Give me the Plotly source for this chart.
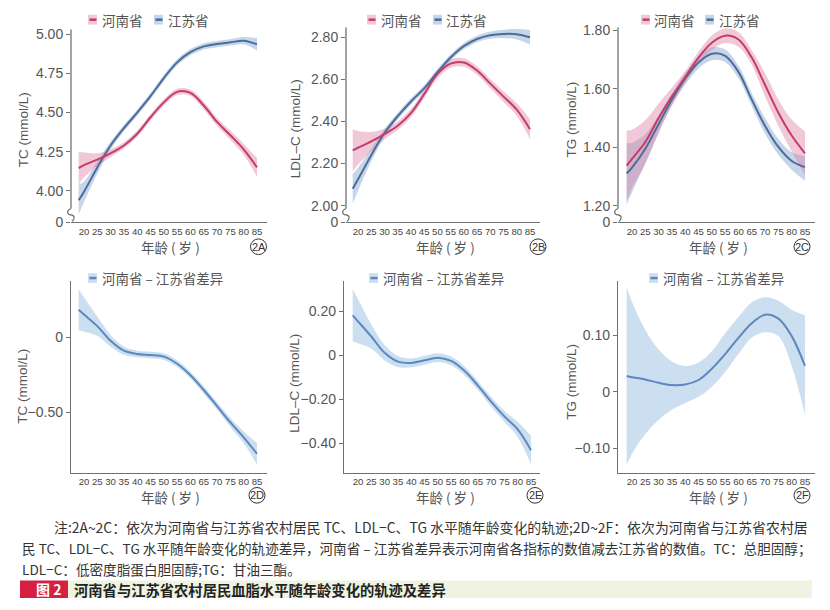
import plotly.graph_objects as go

W, H = 830, 610

# ---------------- data ----------------
age = [18, 20, 25, 30, 35, 40, 45, 50, 55, 60, 65, 70, 75, 80, 85]
x_ticks = [20, 25, 30, 35, 40, 45, 50, 55, 60, 65, 70, 75, 80, 85]

# 2A  TC
tc_henan = [4.145, 4.165, 4.20, 4.24, 4.29, 4.365, 4.47, 4.565, 4.632, 4.625, 4.545, 4.44, 4.355, 4.265, 4.15]
tc_henan_lo = [4.04, 4.085, 4.16, 4.215, 4.27, 4.345, 4.45, 4.545, 4.612, 4.605, 4.52, 4.415, 4.325, 4.23, 4.09]
tc_henan_hi = [4.25, 4.245, 4.24, 4.265, 4.31, 4.385, 4.49, 4.585, 4.652, 4.645, 4.57, 4.465, 4.385, 4.30, 4.21]
tc_js = [3.94, 3.995, 4.15, 4.29, 4.40, 4.50, 4.605, 4.72, 4.82, 4.885, 4.922, 4.937, 4.948, 4.958, 4.935]
tc_js_lo = [3.85, 3.93, 4.11, 4.265, 4.38, 4.48, 4.585, 4.70, 4.80, 4.865, 4.902, 4.917, 4.928, 4.935, 4.895]
tc_js_hi = [4.04, 4.06, 4.19, 4.315, 4.42, 4.52, 4.625, 4.74, 4.84, 4.905, 4.942, 4.957, 4.968, 4.982, 4.975]

# 2B  LDL-C
ldl_henan = [2.263, 2.275, 2.305, 2.34, 2.38, 2.44, 2.53, 2.625, 2.675, 2.68, 2.642, 2.58, 2.518, 2.456, 2.363]
ldl_henan_lo = [2.163, 2.195, 2.26, 2.315, 2.36, 2.42, 2.51, 2.605, 2.655, 2.66, 2.622, 2.558, 2.493, 2.426, 2.316]
ldl_henan_hi = [2.363, 2.355, 2.35, 2.365, 2.40, 2.46, 2.55, 2.645, 2.695, 2.70, 2.662, 2.602, 2.543, 2.486, 2.41]
ldl_js = [2.08, 2.125, 2.24, 2.345, 2.425, 2.495, 2.557, 2.634, 2.704, 2.758, 2.792, 2.81, 2.816, 2.815, 2.80]
ldl_js_lo = [2.01, 2.07, 2.21, 2.325, 2.41, 2.48, 2.542, 2.619, 2.689, 2.743, 2.777, 2.793, 2.796, 2.79, 2.765]
ldl_js_hi = [2.15, 2.18, 2.27, 2.365, 2.44, 2.51, 2.572, 2.649, 2.719, 2.773, 2.807, 2.827, 2.836, 2.84, 2.835]

# 2C  TG
tg_henan = [1.337, 1.36, 1.418, 1.50, 1.574, 1.64, 1.707, 1.758, 1.782, 1.769, 1.707, 1.613, 1.518, 1.44, 1.379]
tg_henan_lo = [1.217, 1.26, 1.343, 1.45, 1.544, 1.62, 1.687, 1.733, 1.757, 1.744, 1.682, 1.573, 1.473, 1.385, 1.304]
tg_henan_hi = [1.457, 1.46, 1.493, 1.55, 1.604, 1.66, 1.727, 1.783, 1.807, 1.794, 1.732, 1.653, 1.563, 1.495, 1.454]
tg_js = [1.31, 1.33, 1.395, 1.479, 1.563, 1.635, 1.69, 1.72, 1.713, 1.658, 1.563, 1.473, 1.401, 1.353, 1.332]
tg_js_lo = [1.205, 1.245, 1.345, 1.449, 1.543, 1.615, 1.67, 1.698, 1.691, 1.636, 1.541, 1.446, 1.374, 1.323, 1.285]
tg_js_hi = [1.415, 1.415, 1.445, 1.509, 1.583, 1.655, 1.71, 1.742, 1.735, 1.68, 1.585, 1.5, 1.428, 1.383, 1.37]

# 2D  TC difference (Henan - Jiangsu)
tc_diff = [0.187, 0.155, 0.077, -0.022, -0.088, -0.11, -0.117, -0.128, -0.176, -0.253, -0.352, -0.46, -0.57, -0.67, -0.78]
tc_diff_lo = [0.05, 0.04, 0.012, -0.062, -0.116, -0.132, -0.139, -0.15, -0.198, -0.275, -0.377, -0.485, -0.60, -0.71, -0.852]
tc_diff_hi = [0.324, 0.27, 0.142, 0.018, -0.06, -0.088, -0.095, -0.106, -0.154, -0.231, -0.327, -0.435, -0.54, -0.63, -0.708]

# 2E  LDL-C difference
ldl_diff = [0.182, 0.155, 0.086, 0.012, -0.028, -0.034, -0.022, -0.010, -0.025, -0.07, -0.136, -0.21, -0.277, -0.336, -0.43]
ldl_diff_lo = [0.064, 0.055, 0.031, -0.023, -0.053, -0.054, -0.042, -0.03, -0.045, -0.09, -0.156, -0.232, -0.302, -0.371, -0.495]
ldl_diff_hi = [0.30, 0.255, 0.141, 0.047, -0.003, -0.014, -0.002, 0.01, -0.005, -0.05, -0.116, -0.188, -0.252, -0.301, -0.365]

# 2F  TG difference
tg_diff = [0.028, 0.026, 0.022, 0.016, 0.012, 0.013, 0.021, 0.041, 0.067, 0.096, 0.122, 0.137, 0.130, 0.099, 0.046]
tg_diff_lo = [-0.13, -0.11, -0.075, -0.05, -0.032, -0.02, -0.009, 0.009, 0.035, 0.067, 0.096, 0.106, 0.099, 0.046, -0.041]
tg_diff_hi = [0.186, 0.16, 0.11, 0.075, 0.054, 0.046, 0.052, 0.072, 0.104, 0.133, 0.159, 0.168, 0.162, 0.146, 0.136]

# tick labels
tc_ticks = [3.80, 4.00, 4.25, 4.50, 4.75, 5.00]
tc_ticktext = ["0", "4.00", "4.25", "4.50", "4.75", "5.00"]
ldl_ticks = [1.921, 2.00, 2.20, 2.40, 2.60, 2.80]
ldl_ticktext = ["0", "2.00", "2.20", "2.40", "2.60", "2.80"]
tg_ticks = [1.143, 1.20, 1.40, 1.60, 1.80]
tg_ticktext = ["0", "1.20", "1.40", "1.60", "1.80"]
tcd_ticks = [0, -0.5]
tcd_ticktext = ["0", "−0.50"]
ldld_ticks = [0.2, 0, -0.2, -0.4]
ldld_ticktext = ["0.20", "0", "−0.20", "−0.40"]
tgd_ticks = [0.1, 0, -0.1]
tgd_ticktext = ["0.10", "0", "−0.10"]

names_top = ["河南省", "江苏省"]
name_diff = "河南省 – 江苏省差异"
ytitles = ["TC (mmol/L)", "LDL–C (mmol/L)", "TG (mmol/L)", "TC (mmol/L)", "LDL–C (mmol/L)", "TG (mmol/L)"]
xtitle = "年龄 ( 岁 )"
panel_ids = ["2A", "2B", "2C", "2D", "2E", "2F"]

note_lines = [
    ("注:2A~2C：依次为河南省与江苏省农村居民 TC、LDL−C、TG 水平随年龄变化的轨迹;2D~2F：依次为河南省与江苏省农村居", 52, 533, 13.9),
    ("民 TC、LDL−C、TG 水平随年龄变化的轨迹差异，河南省 – 江苏省差异表示河南省各指标的数值减去江苏省的数值。TC：总胆固醇；", 20, 555, 13.6),
    ("LDL−C：低密度脂蛋白胆固醇;TG：甘油三酯。", 20, 576, 13.6),
]
fig_tag = "图 2"
fig_title = "河南省与江苏省农村居民血脂水平随年龄变化的轨迹及差异"

# ---------------- styling ----------------
NUM = "Liberation Sans, Arial, sans-serif"
CJK = "Noto Sans CJK SC, sans-serif"
GRAY = "#555555"
AX = "#707070"
HN_LINE = "#c43c68"
HN_BAND = "rgba(222,125,160,0.42)"
JS_LINE = "#4a6d9c"
JS_BAND = "rgba(120,155,200,0.42)"
DF_LINE = "#5d87bf"
DF_BAND = "rgba(160,196,228,0.55)"


def px(x):
    return x / W


def py(y):
    return 1 - y / H


panels = [
    dict(xd=(71, 267), yd=(25, 222), xr=(15.12, 88.76), yr=(3.80, 5.03), tv=tc_ticks, tt=tc_ticktext,
         series=[(tc_js, tc_js_lo, tc_js_hi, JS_LINE, JS_BAND), (tc_henan, tc_henan_lo, tc_henan_hi, HN_LINE, HN_BAND)],
         ytx=23, yty=128, xtx=170, xty=247, cir=(258.5, 247), brk=True),
    dict(xd=(346, 540), yd=(23, 222), xr=(15.46, 88.78), yr=(1.921, 2.8465), tv=ldl_ticks, tt=ldl_ticktext,
         series=[(ldl_js, ldl_js_lo, ldl_js_hi, JS_LINE, JS_BAND), (ldl_henan, ldl_henan_lo, ldl_henan_hi, HN_LINE, HN_BAND)],
         ytx=295, yty=127, xtx=445, xty=247, cir=(538, 247), brk=True),
    dict(xd=(618, 815), yd=(23, 222), xr=(14.74, 88.76), yr=(1.143, 1.81), tv=tg_ticks, tt=tg_ticktext,
         series=[(tg_js, tg_js_lo, tg_js_hi, JS_LINE, JS_BAND), (tg_henan, tg_henan_lo, tg_henan_hi, HN_LINE, HN_BAND)],
         ytx=572, yty=117, xtx=718, xty=247, cir=(802, 247), brk=True),
    dict(xd=(71, 267), yd=(282, 478), xr=(15.12, 88.76), yr=(-0.908, 0.38), tv=tcd_ticks, tt=tcd_ticktext,
         series=[(tc_diff, tc_diff_lo, tc_diff_hi, DF_LINE, DF_BAND)],
         ytx=23, yty=390, xtx=170, xty=503, cir=(257, 501), brk=False),
    dict(xd=(344, 540), yd=(282, 478), xr=(14.74, 88.38), yr=(-0.533, 0.338), tv=ldld_ticks, tt=ldld_ticktext,
         series=[(ldl_diff, ldl_diff_lo, ldl_diff_hi, DF_LINE, DF_BAND)],
         ytx=295, yty=387, xtx=445, xty=503, cir=(535, 501), brk=False),
    dict(xd=(618, 815), yd=(282, 478), xr=(14.74, 88.76), yr=(-0.144, 0.197), tv=tgd_ticks, tt=tgd_ticktext,
         series=[(tg_diff, tg_diff_lo, tg_diff_hi, DF_LINE, DF_BAND)],
         ytx=572, yty=385, xtx=718, xty=503, cir=(802, 501), brk=False),
]

fig = go.Figure()
layout = dict(
    width=W, height=H, margin=dict(l=0, r=0, t=0, b=0),
    paper_bgcolor="white", plot_bgcolor="white", showlegend=False,
)
shapes = []
annotations = []

for i, p in enumerate(panels):
    n = "" if i == 0 else str(i + 1)
    xa, ya = "x" + n, "y" + n
    for (m, lo, hi, lc, bc) in p["series"]:
        fig.add_trace(go.Scatter(x=age, y=lo, xaxis=xa, yaxis=ya, mode="lines",
                                 line=dict(width=0, shape="spline", smoothing=1.0),
                                 hoverinfo="skip", showlegend=False))
        fig.add_trace(go.Scatter(x=age, y=hi, xaxis=xa, yaxis=ya, mode="lines",
                                 line=dict(width=0, shape="spline", smoothing=1.0),
                                 fill="tonexty", fillcolor=bc, hoverinfo="skip", showlegend=False))
    for (m, lo, hi, lc, bc) in p["series"]:
        fig.add_trace(go.Scatter(x=age, y=m, xaxis=xa, yaxis=ya, mode="lines",
                                 line=dict(width=2, color=lc, shape="spline", smoothing=1.0),
                                 showlegend=False))

    layout["xaxis" + n] = dict(
        domain=[px(p["xd"][0]), px(p["xd"][1])], range=list(p["xr"]), anchor=ya,
        tickvals=x_ticks, ticks="", showgrid=False, zeroline=False, tickangle=0,
        showline=True, linecolor=AX, linewidth=1.3,
        tickfont=dict(family=NUM, size=9.6, color="#444444"),
    )
    layout["yaxis" + n] = dict(
        domain=[py(p["yd"][1]), py(p["yd"][0])], range=list(p["yr"]), anchor=xa,
        tickvals=p["tv"], ticktext=p["tt"], ticks="outside", ticklen=4, tickcolor=AX, tickwidth=1,
        showgrid=False, zeroline=False, showline=not p["brk"], linecolor=AX, linewidth=1.3,
        tickfont=dict(family=NUM, size=14, color=GRAY),
    )

    x0 = p["xd"][0]
    if p["brk"]:
        shapes.append(dict(type="line", xref="paper", yref="paper",
                           x0=px(x0), x1=px(x0), y0=py(p["yd"][0]), y1=py(208),
                           line=dict(color=AX, width=1.3)))
        pts = [(x0, 208), (x0 - 5, 210.5), (x0 - 4, 214), (x0, 214.5), (x0 + 4, 215), (x0 + 4, 218.5), (x0 + 1, 221)]
        path = "M {:.5f},{:.5f} C {:.5f},{:.5f} {:.5f},{:.5f} {:.5f},{:.5f} C {:.5f},{:.5f} {:.5f},{:.5f} {:.5f},{:.5f}".format(
            *[v for (a, b) in pts for v in (px(a), py(b))])
        shapes.append(dict(type="path", xref="paper", yref="paper", path=path,
                           line=dict(color=AX, width=1.2)))

    annotations.append(dict(xref="paper", yref="paper", x=px(p["ytx"]), y=py(p["yty"]),
                            text=ytitles[i], textangle=-90, showarrow=False,
                            xanchor="center", yanchor="middle",
                            font=dict(family=NUM, size=13.5, color=GRAY)))
    annotations.append(dict(xref="paper", yref="paper", x=px(p["xtx"]), y=py(p["xty"]),
                            text=xtitle, showarrow=False, xanchor="center", yanchor="middle",
                            font=dict(family=CJK, size=13.5, color=GRAY)))
    cx, cy = p["cir"]
    shapes.append(dict(type="circle", xref="paper", yref="paper",
                       x0=px(cx - 8), x1=px(cx + 8), y0=py(cy + 8), y1=py(cy - 8),
                       line=dict(color="#333333", width=1)))
    annotations.append(dict(xref="paper", yref="paper", x=px(cx), y=py(cy),
                            text=panel_ids[i], showarrow=False, xanchor="center", yanchor="middle",
                            font=dict(family=NUM, size=11, color="#333333")))


def legend_item(sx, sy, tx, text, lc, bc):
    shapes.append(dict(type="rect", xref="paper", yref="paper",
                       x0=px(sx), x1=px(sx + 9), y0=py(sy + 5), y1=py(sy - 5),
                       fillcolor=bc, line=dict(width=0)))
    shapes.append(dict(type="line", xref="paper", yref="paper",
                       x0=px(sx + 1.5), x1=px(sx + 8.5), y0=py(sy), y1=py(sy),
                       line=dict(color=lc, width=2.5)))
    annotations.append(dict(xref="paper", yref="paper", x=px(tx), y=py(sy),
                            text=text, showarrow=False, xanchor="left", yanchor="middle",
                            font=dict(family=CJK, size=13.5, color=GRAY)))


legend_item(88, 15, 100, names_top[0], HN_LINE, HN_BAND)
legend_item(154, 15, 166, names_top[1], JS_LINE, JS_BAND)
legend_item(367, 15, 379, names_top[0], HN_LINE, HN_BAND)
legend_item(433, 15, 444, names_top[1], JS_LINE, JS_BAND)
legend_item(641, 15, 652, names_top[0], HN_LINE, HN_BAND)
legend_item(705, 15, 717, names_top[1], JS_LINE, JS_BAND)
legend_item(88, 279, 100, name_diff, DF_LINE, DF_BAND)
legend_item(369, 279, 381, name_diff, DF_LINE, DF_BAND)
legend_item(649, 279, 661, name_diff, DF_LINE, DF_BAND)

for text, tx, ty, fs in note_lines:
    annotations.append(dict(xref="paper", yref="paper", x=px(tx), y=py(ty), text=text,
                            showarrow=False, xanchor="left", yanchor="middle",
                            font=dict(family=CJK, size=fs, color="#333333")))

shapes.append(dict(type="rect", xref="paper", yref="paper", x0=px(68), x1=px(812), y0=py(606), y1=py(588),
                   fillcolor="#eef3e2", line=dict(width=0), layer="below"))
shapes.append(dict(type="rect", xref="paper", yref="paper", x0=px(20), x1=px(68), y0=py(606), y1=py(588),
                   fillcolor="#d5203f", line=dict(width=0), layer="below"))
annotations.append(dict(xref="paper", yref="paper", x=px(48), y=py(597), text="<b>" + fig_tag + "</b>",
                        showarrow=False, xanchor="center", yanchor="middle",
                        font=dict(family=CJK, size=14, color="white")))
annotations.append(dict(xref="paper", yref="paper", x=px(72), y=py(597), text="<b>" + fig_title + "</b>",
                        showarrow=False, xanchor="left", yanchor="middle",
                        font=dict(family=CJK, size=14.3, color="#222222")))

layout["shapes"] = shapes
layout["annotations"] = annotations
fig.update_layout(**layout)
fig.write_html("out.html", config={"displayModeBar": False},
               post_script="document.body.style.margin='0px';document.body.style.overflow='hidden';")
